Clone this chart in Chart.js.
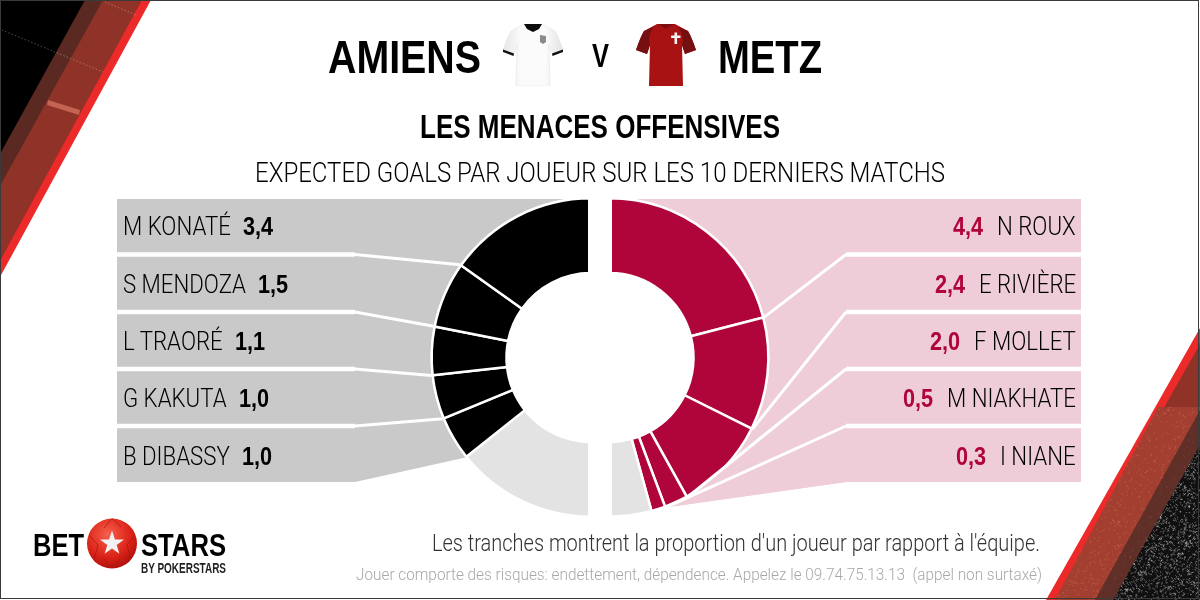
<!DOCTYPE html>
<html>
<head>
<meta charset="utf-8">
<title>Amiens v Metz</title>
<script src="https://cdn.jsdelivr.net/npm/chart.js@4.4.0/dist/chart.umd.min.js"></script>
<style>
  html, body { margin: 0; padding: 0; background: #fff; }
  #page { position: relative; width: 1200px; height: 600px; overflow: hidden; background: #fff; }
  canvas { position: absolute; left: 0; top: 0; }
  svg { position: absolute; }
  .txt { position: absolute; line-height: 0; white-space: pre; transform-origin: left center; }
  #frame { position: absolute; left: 0; top: 0; width: 1197px; height: 597px; border: 1.5px solid #3a3a3a; }
</style>
</head>
<body>
<div id="page">
  <canvas id="leftChart" width="1200" height="600"></canvas>
  <canvas id="rightChart" width="1200" height="600"></canvas>
  <!-- maillots -->
  <svg style="left:503px;top:24px" width="60" height="62" viewBox="0 0 60 62">
    <defs><linearGradient id="shirtW" x1="0" x2="1" y1="0" y2="0">
      <stop offset="0" stop-color="#e6e6e6"/><stop offset="0.3" stop-color="#fbfbfb"/><stop offset="0.7" stop-color="#fbfbfb"/><stop offset="1" stop-color="#e2e2e2"/>
    </linearGradient></defs>
    <path d="M21 0 L39 0 L52 7 Q56 14 60 26 L49 30 L46 21 L47 62 L13 62 L14 21 L11 30 L0 26 Q4 14 8 7 Z" fill="url(#shirtW)" stroke="#e4e4e4" stroke-width="0.6"/>
    <path d="M21 0 L39 0 L36 5 L30 8 L24 5 Z" fill="#0c0c0c"/>
    <path d="M0 25.5 L11 29.5 L10.5 32 L0 28 Z M60 25.5 L49 29.5 L49.5 32 L60 28 Z" fill="#111"/>
    <path d="M37 11 L43 12 L43 18 L40 20 L37 18 Z" fill="#8a8a8a"/>
  </svg>
  <svg style="left:636px;top:24px" width="60" height="62" viewBox="0 0 60 62">
    <path d="M21 0 L39 0 L52 7 Q56 14 60 26 L49 30 L46 21 L47 62 L13 62 L14 21 L11 30 L0 26 Q4 14 8 7 Z" fill="#a91212"/>
    <path d="M8 7 Q4 14 0 26 L11 30 L14 21 Q11 12 18 3 Z M52 7 Q56 14 60 26 L49 30 L46 21 Q49 12 42 3 Z" fill="#741012"/>
    <path d="M22 0 L38 0 L30 5 Z" fill="#7c0f10"/>
    <path d="M38.5 8.5 h2.6 v3 h3.4 v2.6 h-3.4 v6 h-2.6 v-6 h-3.4 v-2.6 h3.4 Z" fill="#f4f4f4"/>
  </svg>
  <svg style="left:86px;top:517px" width="52" height="54" viewBox="0 0 52 54">
    <defs><radialGradient id="ball" cx="0.42" cy="0.32" r="0.75">
      <stop offset="0" stop-color="#f6604c"/><stop offset="0.6" stop-color="#dc2318"/><stop offset="1" stop-color="#a50d0c"/>
    </radialGradient></defs>
    <circle cx="26" cy="26.5" r="25" fill="url(#ball)"/>
    <path d="M26 1.5 L18 11 M26 1.5 L35 10 M3 18 L12 28 L8 42 M49 18 L41 28 L45 42 M18 42 L26 51 L34 42" fill="none" stroke="#a81410" stroke-width="0.7"/>
    <path d="M26 13.5 L28.9 22.5 L38 22.6 L30.7 28 L33.4 36.7 L26 31.5 L18.6 36.7 L21.3 28 L14 22.6 L23.1 22.5 Z" fill="#f2f2f2"/>
  </svg>
  <div id="frame"></div>
</div>
<script>
// Valeurs
const amiensPlayers = ["M KONATÉ", "S MENDOZA", "L TRAORÉ", "G KAKUTA", "B DIBASSY"];
const amiensValues = [3.4, 1.5, 1.1, 1.0, 1.0];
const amiensOther = 3.2;
const metzPlayers = ["N ROUX", "E RIVIÈRE", "F MOLLET", "M NIAKHATE", "I NIANE"];
const metzValues = [4.4, 2.4, 2.0, 0.5, 0.3];
const metzOther = 0.9;

const colAmiens = "#000000";
const colMetz = "#b0053a";
const colOther = "#e3e3e3";
const colBandLeft = "#c9c9c9";
const colBandRight = "#eecdd8";

const bandTop = 199;
const bandBottom = 482;
const sepY = [254.5, 312, 369, 426];
const rowY = [226, 284, 341, 398, 456];

const page = document.getElementById("page");
const thin = "Roboto";
const bold = "'Liberation Sans'";

function addText(str, o) {
  const el = document.createElement("div");
  el.className = "txt";
  el.textContent = str;
  el.style.fontFamily = o.font;
  el.style.fontWeight = o.weight;
  el.style.fontSize = o.size + "px";
  el.style.color = o.color || "#000";
  el.style.top = o.y + "px";
  page.insertBefore(el, document.getElementById("frame"));
  const natural = el.getBoundingClientRect().width;
  const k = o.width ? o.width / natural : o.scale || 1;
  const w = natural * k;
  let left = o.x;
  if (o.align == "center") left = o.x - w / 2;
  if (o.align == "right") left = o.x - w;
  el.style.left = left + "px";
  el.style.transform = "scaleX(" + k + ")";
  return w;
}

function poly(ctx, pts, color) {
  ctx.fillStyle = color;
  ctx.beginPath();
  pts.forEach((p, i) => (i ? ctx.lineTo(p[0], p[1]) : ctx.moveTo(p[0], p[1])));
  ctx.closePath();
  ctx.fill();
}

// Le décor dans les coins
function speckle(ctx, pts, count, color) {
  ctx.save();
  ctx.beginPath();
  pts.forEach((p, i) => (i ? ctx.lineTo(p[0], p[1]) : ctx.moveTo(p[0], p[1])));
  ctx.closePath();
  ctx.clip();
  ctx.strokeStyle = color;
  ctx.lineWidth = 0.7;
  let seed = 4711;
  const next = () => (seed = (seed * 16807) % 2147483647) / 2147483647;
  ctx.beginPath();
  for (let i = 0; i < count; i++) {
    const x = 1040 + next() * 160;
    const y = 330 + next() * 270;
    ctx.moveTo(x, y);
    ctx.lineTo(x + next() * 4 - 2, y + next() * 4 - 2);
  }
  ctx.stroke();
  ctx.restore();
}

function drawCorners(ctx) {
  // haut gauche
  poly(ctx, [[0, 0], [151, 0], [0, 277]], "#ed2a2a");
  poly(ctx, [[0, 0], [142, 0], [0, 261]], "#8f3329");
  poly(ctx, [[0, 0], [103, 0], [0, 186]], "#5a2a22");
  poly(ctx, [[0, 0], [85, 0], [0, 154]], "#000000");
  ctx.strokeStyle = "rgba(255,255,255,0.45)";
  ctx.lineWidth = 0.7;
  ctx.setLineDash([1.5, 2]);
  ctx.beginPath();
  ctx.moveTo(2, 30);
  ctx.lineTo(103, 72);
  ctx.moveTo(105, 2);
  ctx.lineTo(136, 15);
  ctx.stroke();
  ctx.setLineDash([]);
  ctx.fillStyle = "rgba(220,120,100,0.7)";
  ctx.beginPath();
  ctx.moveTo(48, 100);
  ctx.lineTo(80, 110);
  ctx.lineTo(79, 115);
  ctx.lineTo(47, 105);
  ctx.closePath();
  ctx.fill();

  // bas droite
  poly(ctx, [[1200, 328], [1200, 600], [1046, 600]], "#ed2a2a");
  poly(ctx, [[1200, 344], [1200, 600], [1055, 600]], "#8f3329");
  const lighter = [[1158, 407], [1200, 407], [1200, 600], [1055, 600]];
  poly(ctx, lighter, "#a23f30");
  speckle(ctx, lighter, 1800, "rgba(235,130,105,0.55)");
  const brown = [[1200, 410], [1200, 600], [1095, 600]];
  poly(ctx, brown, "#5f2f28");
  speckle(ctx, brown, 800, "rgba(190,100,80,0.5)");
  const dark = [[1200, 445], [1200, 600], [1113, 600]];
  poly(ctx, dark, "#101010");
  speckle(ctx, dark, 7000, "rgba(255,255,255,0.55)");
}

function edgePoint(arc, angle) {
  const r = arc.outerRadius + 1;
  return [arc.x + r * Math.cos(angle), arc.y + r * Math.sin(angle), angle];
}

function separators(ctx, x0, elbow, ends) {
  ctx.strokeStyle = "#fff";
  sepY.forEach((y, i) => {
    ctx.lineWidth = 4.5;
    ctx.beginPath();
    ctx.moveTo(x0, y);
    ctx.lineTo(elbow, y);
    ctx.stroke();
    ctx.lineWidth = 3;
    ctx.beginPath();
    ctx.moveTo(elbow, y);
    ctx.lineTo(ends[i][0], ends[i][1]);
    ctx.stroke();
  });
}

const leftDeco = {
  id: "leftDeco",
  beforeDatasetsDraw(chart) {
    const ctx = chart.ctx;
    const arcs = chart.getDatasetMeta(0).data;
    ctx.save();
    drawCorners(ctx);
    // arcs rangés du bas vers le haut, le joueur i est a l'indice 5 - i
    const ends = amiensPlayers.map((_, i) => edgePoint(arcs[5 - i], arcs[5 - i].startAngle));
    const elbow = 355;
    ctx.beginPath();
    ctx.rect(117, bandTop, 500, bandBottom - bandTop + 40);
    ctx.clip();
    ctx.fillStyle = colBandLeft;
    ctx.beginPath();
    ctx.moveTo(117, bandTop);
    ctx.arc(arcs[0].x, arcs[0].y, arcs[0].outerRadius + 1, -Math.PI / 2, ends[4][2], true);
    ctx.lineTo(elbow, bandBottom);
    ctx.lineTo(117, bandBottom);
    ctx.closePath();
    ctx.fill();
    separators(ctx, 117, elbow, ends);
    ctx.restore();
  },
};

const rightDeco = {
  id: "rightDeco",
  beforeDatasetsDraw(chart) {
    const ctx = chart.ctx;
    const arcs = chart.getDatasetMeta(0).data;
    const p4 = edgePoint(arcs[3], arcs[3].endAngle);
    ctx.save();
    ctx.beginPath();
    ctx.rect(600, bandTop, 481, 340);
    ctx.clip();
    ctx.fillStyle = colBandRight;
    ctx.beginPath();
    ctx.moveTo(1081, bandTop);
    ctx.lineTo(1081, bandBottom);
    ctx.lineTo(846, bandBottom);
    ctx.lineTo(p4[0], p4[1]);
    ctx.arc(arcs[0].x, arcs[0].y, arcs[0].outerRadius + 1, p4[2], -Math.PI / 2, true);
    ctx.closePath();
    ctx.fill();
    ctx.restore();
  },
  afterDatasetsDraw(chart) {
    const ctx = chart.ctx;
    const arcs = chart.getDatasetMeta(0).data;
    const ends = metzPlayers.map((_, i) => edgePoint(arcs[i], arcs[i].endAngle));
    const elbow = 846;
    ctx.save();
    // la bande rose passe par dessus le coin de la tranche
    poly(ctx, [[elbow, sepY[2]], ends[2], ends[3], [elbow, bandBottom]], colBandRight);
    separators(ctx, 1081, elbow, ends);
    // la coupure au milieu
    ctx.fillStyle = "#fff";
    ctx.fillRect(588, 190, 24, 335);
    ctx.restore();
  },
};

const commonOptions = {
  responsive: false,
  animation: false,
  events: [],
  circumference: 180,
  cutout: "53%",
  plugins: { legend: { display: false }, tooltip: { enabled: false } },
};

new Chart(document.getElementById("leftChart"), {
  type: "doughnut",
  plugins: [leftDeco],
  data: {
    labels: ["Autres"].concat(amiensPlayers.slice().reverse()),
    datasets: [
      {
        data: [amiensOther].concat(amiensValues.slice().reverse()),
        backgroundColor: [colOther].concat(amiensValues.map(() => colAmiens)),
        borderColor: "#fff",
        borderWidth: 2.5,
      },
    ],
  },
  options: {
    ...commonOptions,
    rotation: 180,
    layout: { padding: { left: 430, right: 607.5, top: 197, bottom: 82 } },
  },
});

new Chart(document.getElementById("rightChart"), {
  type: "doughnut",
  plugins: [rightDeco],
  data: {
    labels: metzPlayers.concat(["Autres"]),
    datasets: [
      {
        data: metzValues.concat([metzOther]),
        backgroundColor: metzValues.map(() => colMetz).concat([colOther]),
        borderColor: "#fff",
        borderWidth: 2.5,
      },
    ],
  },
  options: {
    ...commonOptions,
    rotation: 0,
    layout: { padding: { left: 607.5, right: 430, top: 197, bottom: 82 } },
  },
});

// Les textes
function fmt(v) {
  return v.toFixed(1).replace(".", ",");
}

addText("AMIENS", { x: 328, y: 57, font: bold, weight: 700, size: 47, width: 153 });
addText("V", { x: 600, y: 56, font: bold, weight: 700, size: 33, align: "center", width: 17 });
addText("METZ", { x: 718, y: 57, font: bold, weight: 700, size: 47, width: 104 });
addText("LES MENACES OFFENSIVES", { x: 600, y: 127, font: bold, weight: 700, size: 33, align: "center", width: 360 });
addText("EXPECTED GOALS PAR JOUEUR SUR LES 10 DERNIERS MATCHS", { x: 600, y: 173, font: thin, weight: 300, size: 28, align: "center", width: 690 });

amiensPlayers.forEach((name, i) => {
  const w = addText(name, { x: 123, y: rowY[i], font: thin, weight: 300, size: 26, scale: 0.855 });
  addText(fmt(amiensValues[i]), { x: 123 + w + 12, y: rowY[i], font: bold, weight: 700, size: 25.5, scale: 0.85 });
});
metzPlayers.forEach((name, i) => {
  const w = addText(name, { x: 1076, y: rowY[i], font: thin, weight: 300, size: 26, scale: 0.855, align: "right" });
  addText(fmt(metzValues[i]), { x: 1076 - w - 14, y: rowY[i], font: bold, weight: 700, size: 25.5, scale: 0.85, color: colMetz, align: "right" });
});

addText("Les tranches montrent la proportion d'un joueur par rapport à l'équipe.", { x: 1040, y: 544, font: thin, weight: 300, size: 23, color: "#333", align: "right", width: 608 });
addText("Jouer comporte des risques: endettement, dépendence. Appelez le 09.74.75.13.13  (appel non surtaxé)", { x: 1042, y: 575, font: thin, weight: 300, size: 16, color: "#a8a8a8", align: "right", width: 686 });

addText("BET", { x: 33, y: 546, font: bold, weight: 700, size: 31, width: 51 });
addText("STARS", { x: 141, y: 546, font: bold, weight: 700, size: 31, width: 85 });
addText("BY POKERSTARS", { x: 141, y: 568, font: bold, weight: 700, size: 14, width: 85, color: "#222" });
</script>
</body>
</html>
